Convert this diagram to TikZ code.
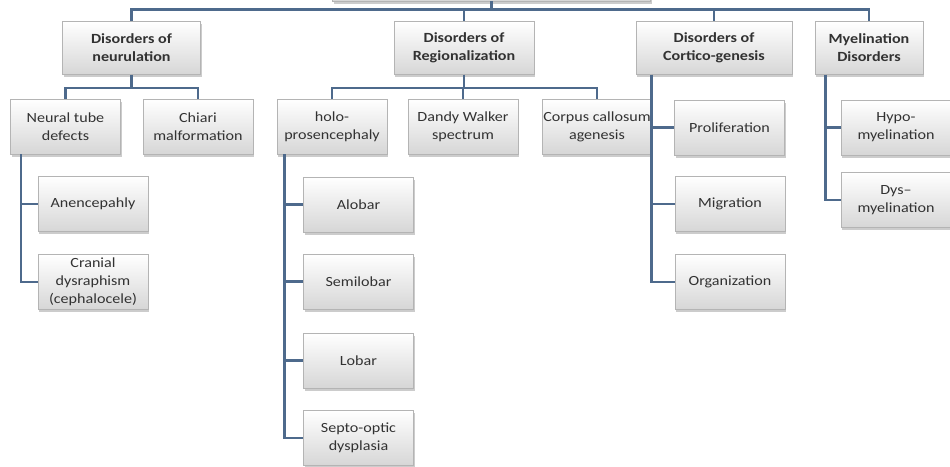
\documentclass[tikz,border=0pt]{standalone}
\usepackage{fontspec}
\newfontfamily\boxfont{Carlito}[FakeStretch=1.15]
\usetikzlibrary{shadows}
\definecolor{linkblue}{RGB}{78,106,140}
\definecolor{boxline}{RGB}{180,180,180}
\definecolor{boxtext}{RGB}{50,50,50}

\begin{document}
\begin{tikzpicture}[x=1pt,y=-1pt]
\tikzset{box/.style={draw=boxline, line width=0.6pt, top color=white, bottom color=gray!32,
    drop shadow={shadow xshift=1pt, shadow yshift=-2.5pt, opacity=0.4, fill=gray},
    inner sep=0pt, align=center, text=boxtext, font=\boxfont\fontsize{14}{18}\selectfont},
  headbox/.style={box, font=\boxfont\bfseries\fontsize{14}{18}\selectfont, minimum height=53pt},
  subbox/.style={box, minimum width=110pt, minimum height=55pt},
  link/.style={draw=linkblue, line width=2.5pt}}
    \useasboundingbox (0,0) rectangle (950,466);

    % root, only its lower edge is in view
    \node[box, minimum width=318pt, minimum height=42pt] (root) at (491.5,-20) {};

    \node[headbox, minimum width=138pt] (neuru) at (131.5,48) {Disorders of\\neurulation};
    \node[headbox, minimum width=140pt] (region) at (464,48) {Disorders of\\Regionalization};
    \node[headbox, minimum width=156pt] (cortico) at (714,48) {Disorders of\\Cortico-genesis};
    \node[headbox, minimum width=108pt] (myelin) at (869,48) {Myelination\\Disorders};

    \node[subbox] (ntd) at (65.5,126.5) {Neural tube\\defects};
    \node[subbox] (chiari) at (198,126.5) {Chiari\\malformation};
    \node[subbox] (holo) at (332,126.5) {holo-\\prosencephaly};
    \node[subbox] (dandy) at (463,126.5) {Dandy Walker\\spectrum};
    \node[subbox] (corpus) at (597,126.5) {Corpus callosum\\agenesis};
    \node[subbox] (prolif) at (729.5,127.5) {Proliferation};
    \node[subbox] (hypo) at (896,127.5) {Hypo-\\myelination};

    \node[subbox] (anen) at (93,204) {Anencepahly};
    \node[subbox] (cranial) at (93,282) {Cranial\\dysraphism\\(cephalocele)};
    \node[subbox] (alobar) at (358.5,204.5) {Alobar};
    \node[subbox] (semilobar) at (358.5,281.5) {Semilobar};
    \node[subbox] (lobar) at (358.5,360.5) {Lobar};
    \node[subbox] (septo) at (358.5,438) {Septo-optic\\dysplasia};
    \node[subbox] (migra) at (730,204) {Migration};
    \node[subbox] (organ) at (730,282) {Organization};
    \node[subbox] (dys) at (896,200) {Dys–\\myelination};

    \draw[link] (root.south) -- ++(0,8) -| (neuru.north);
    \draw[link] (root.south) -- ++(0,8) -| (region.north);
    \draw[link] (root.south) -- ++(0,8) -| (cortico.north);
    \draw[link] (root.south) -- ++(0,8) -| (myelin.north);

    \draw[link] (neuru.south) -- ++(0,13) -| (ntd.north);
    \draw[link] (neuru.south) -- ++(0,13) -| (chiari.north);
    \draw[link] (region.south) -- ++(0,13) -| (holo.north);
    \draw[link] (region.south) -- ++(0,13) -| (dandy.north);
    \draw[link] (region.south) -- ++(0,13) -| (corpus.north);

    \draw[link] ([xshift=11pt]ntd.south west) |- (anen.west);
    \draw[link] ([xshift=11pt]ntd.south west) |- (cranial.west);
    \draw[link] ([xshift=8pt]holo.south west) |- (alobar.west);
    \draw[link] ([xshift=8pt]holo.south west) |- (semilobar.west);
    \draw[link] ([xshift=8pt]holo.south west) |- (lobar.west);
    \draw[link] ([xshift=8pt]holo.south west) |- (septo.west);
    \draw[link] ([xshift=16pt]cortico.south west) |- (prolif.west);
    \draw[link] ([xshift=16pt]cortico.south west) |- (migra.west);
    \draw[link] ([xshift=16pt]cortico.south west) |- (organ.west);
    \draw[link] ([xshift=11pt]myelin.south west) |- (hypo.west);
    \draw[link] ([xshift=11pt]myelin.south west) |- (dys.west);
\end{tikzpicture}
\end{document}
